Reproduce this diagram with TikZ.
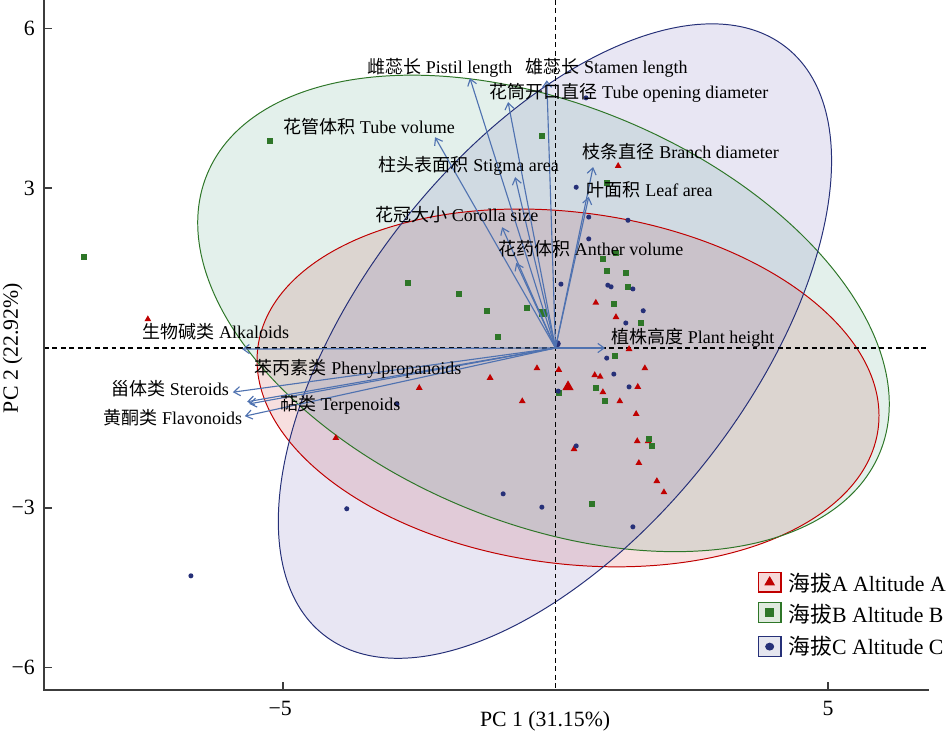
\documentclass[tikz,border=0pt]{standalone}
\usepackage{fontspec}
\setmainfont{Liberation Serif}
\newfontfamily\cjk{Noto Sans CJK SC}
\usetikzlibrary{arrows.meta}

\definecolor{altA}{RGB}{192,0,0}
\definecolor{altB}{RGB}{46,118,40}
\definecolor{altC}{RGB}{38,48,120}
\definecolor{fillA}{RGB}{200,30,30}
\definecolor{fillB}{RGB}{40,140,100}
\definecolor{fillC}{RGB}{90,80,170}
\definecolor{loadblue}{RGB}{79,114,176}
\definecolor{axisgray}{RGB}{60,60,60}

\tikzset{
    lbl/.style={font=\fontsize{12.8}{14}\selectfont, inner sep=0pt},
    ticklbl/.style={font=\fontsize{15.5}{18}\selectfont, inner sep=0pt},
    axtitle/.style={font=\fontsize{15.5}{18}\selectfont, inner sep=0pt},
    legtext/.style={font=\fontsize{15.5}{18}\selectfont, inner sep=0pt, anchor=west},
    legbox/.style={line width=0.9pt, minimum width=16pt, minimum height=14pt, inner sep=0pt},
    loading/.style={loadblue, line width=0.8pt, -{Straight Barb[length=4.5pt,width=6.5pt]}},
    zeroline/.style={black, line width=0.9pt, dash pattern=on 3.5pt off 2.5pt},
    axisline/.style={axisgray, line width=1.2pt}
}

% markers for the three altitudes
\newcommand{\markA}[1]{\fill[altA] (#1) +(90:2.8pt) -- +(210:2.8pt) -- +(330:2.8pt) -- cycle;}
\newcommand{\markB}[1]{\fill[altB] (#1) +(-2pt,-2pt) rectangle +(2pt,2pt);}
\newcommand{\markC}[1]{\fill[altC] (#1) circle (1.8pt);}

\begin{document}
\begin{tikzpicture}[x=1.3625cm, y=1.33075cm]
        \useasboundingbox (-10.193,-7.252) rectangle (7.239,6.538);

        % confidence ellipses
        \fill[fillA, fill opacity=0.14, rotate around={-7.5:(0.23,-0.75)}] (0.23,-0.75) ellipse [x radius=5.74, y radius=3.30];
        \fill[fillB, fill opacity=0.13, rotate around={-22.5:(-0.22,0.65)}] (-0.22,0.65) ellipse [x radius=6.68, y radius=3.93];
        \fill[fillC, fill opacity=0.14, rotate around={51.8:(-0.01,0.13)}] (-0.01,0.13) ellipse [x radius=6.86, y radius=3.63];
        \draw[altA, line width=0.7pt, rotate around={-7.5:(0.23,-0.75)}] (0.23,-0.75) ellipse [x radius=5.74, y radius=3.30];
        \draw[altB, line width=0.7pt, rotate around={-22.5:(-0.22,0.65)}] (-0.22,0.65) ellipse [x radius=6.68, y radius=3.93];
        \draw[altC, line width=0.7pt, rotate around={51.8:(-0.01,0.13)}] (-0.01,0.13) ellipse [x radius=6.86, y radius=3.63];

        % zero lines and axes
        \draw[zeroline] (-9.385,0) -- (6.853,0);
        \draw[zeroline] (0,6.538) -- (0,-6.425);
        \draw[axisline] (-9.385,6.538) -- (-9.385,-6.425) -- (6.853,-6.425);
        \draw[axisline] (-5,-6.425) -- (-5,-6.275);
        \draw[axisline] (5,-6.425) -- (5,-6.275);
        \draw[axisline] (-9.385,6) -- (-9.238,6);
        \draw[axisline] (-9.385,3) -- (-9.238,3);
        \draw[axisline] (-9.385,-3) -- (-9.238,-3);
        \draw[axisline] (-9.385,-6) -- (-9.238,-6);
        \node[ticklbl] (xm5) at (-5.05,-6.78) {−5};
        \node[ticklbl] (xp5) at (5,-6.78) {5};
        \node[ticklbl, anchor=east] (yp6) at (-9.55,6) {6};
        \node[ticklbl, anchor=east] (yp3) at (-9.55,3) {3};
        \node[ticklbl, anchor=east] (ym3) at (-9.55,-3) {−3};
        \node[ticklbl, anchor=east] (ym6) at (-9.55,-6) {−6};
        \node[axtitle] (xlab) at (-0.19,-7.01) {PC 1 (31.15\%)};
        \node[axtitle, rotate=90] (ylab) at (-9.96,0) {PC 2 (22.92\%)};

        % altitude A
        \markA{-7.48,0.54}
        \markA{1.15,3.42}
        \markA{0.74,0.85}
        \markA{1.11,0.58}
        \markA{1.35,-0.02}
        \markA{1.64,-0.38}
        \markA{-0.34,-0.38}
        \markA{-1.20,-0.56}
        \markA{0.06,-0.41}
        \markA{0.72,-0.51}
        \markA{0.82,-0.54}
        \markA{1.51,-0.73}
        \markA{0.87,-0.83}
        \markA{1.18,-1.00}
        \markA{-0.61,-1.00}
        \markA{1.48,-1.24}
        \markA{1.50,-1.75}
        \markA{1.70,-1.75}
        \markA{0.34,-1.90}
        \markA{1.53,-2.16}
        \markA{1.86,-2.50}
        \markA{1.99,-2.71}
        \markA{-2.50,-0.75}
        \markA{-4.03,-1.69}
        \fill[altA] (0.23,-0.73) +(90:4.6pt) -- +(210:4.6pt) -- +(330:4.6pt) -- cycle;

        % altitude B
        \markB{-5.24,3.89}
        \markB{-8.65,1.71}
        \markB{-2.71,1.22}
        \markB{-1.77,1.01}
        \markB{-0.25,3.98}
        \markB{0.94,3.10}
        \markB{0.87,1.67}
        \markB{1.11,1.78}
        \markB{0.94,1.45}
        \markB{1.29,1.41}
        \markB{1.33,1.15}
        \markB{1.07,0.83}
        \markB{-1.26,0.70}
        \markB{-0.52,0.75}
        \markB{1.57,0.47}
        \markB{-1.06,0.21}
        \markB{1.09,-0.15}
        \markB{0.06,-0.85}
        \markB{0.74,-0.75}
        \markB{0.91,-1.00}
        \markB{1.72,-1.71}
        \markB{1.77,-1.84}
        \markB{0.67,-2.93}
        \fill[altB] (-0.23,0.66) +(-3pt,-3pt) rectangle +(3pt,3pt);

        % altitude C
        \markC{0.56,4.70}
        \markC{0.38,3.02}
        \markC{0.61,2.46}
        \markC{1.33,2.40}
        \markC{0.61,2.05}
        \markC{0.10,1.20}
        \markC{0.96,1.18}
        \markC{1.02,1.15}
        \markC{1.42,1.11}
        \markC{1.61,0.70}
        \markC{1.29,0.47}
        \markC{0.94,-0.19}
        \markC{1.07,-0.49}
        \markC{0.05,-0.81}
        \markC{1.35,-0.73}
        \markC{0.38,-1.84}
        \markC{-0.96,-2.74}
        \markC{-0.25,-2.99}
        \markC{1.42,-3.36}
        \markC{-2.91,-1.05}
        \markC{-3.83,-3.02}
        \markC{-6.69,-4.28}
        \fill[altC] (0.03,0.08) circle (2.6pt);

        % loadings
        \coordinate (o) at (0,0);
        \coordinate (pistil) at (-1.57,5.07);
        \coordinate (stamen) at (-0.16,5.03);
        \coordinate (opening) at (-0.87,4.62);
        \coordinate (tubevol) at (-2.21,3.96);
        \coordinate (stigma) at (-0.74,3.21);
        \coordinate (corolla) at (-0.98,2.27);
        \coordinate (anther) at (-0.72,1.60);
        \coordinate (branch) at (0.69,3.40);
        \coordinate (leaf) at (0.61,2.84);
        \coordinate (height) at (0.91,0);
        \coordinate (alkal) at (-5.75,-0.02);
        \coordinate (steroid) at (-5.92,-0.83);
        \coordinate (phenyl) at (-5.66,-1.01);
        \coordinate (terpen) at (-5.62,-1.05);
        \coordinate (flavon) at (-5.70,-1.28);
        \draw[loading] (o) -- (pistil);
        \draw[loading] (o) -- (stamen);
        \draw[loading] (o) -- (opening);
        \draw[loading] (o) -- (tubevol);
        \draw[loading] (o) -- (stigma);
        \draw[loading] (o) -- (corolla);
        \draw[loading] (o) -- (anther);
        \draw[loading] (o) -- (branch);
        \draw[loading] (o) -- (leaf);
        \draw[loading] (o) -- (height);
        \draw[loading] (o) -- (alkal);
        \draw[loading] (o) -- (steroid);
        \draw[loading] (o) -- (phenyl);
        \draw[loading] (o) -- (terpen);
        \draw[loading] (o) -- (flavon);

        % loading labels
        \node[lbl] (l-pistil) at (-2.12,5.26) {{\cjk 雌蕊长} Pistil length};
        \node[lbl] (l-stamen) at (0.94,5.26) {{\cjk 雄蕊长} Stamen length};
        \node[lbl] (l-opening) at (1.35,4.79) {{\cjk 花筒开口直径} Tube opening diameter};
        \node[lbl] (l-tubevol) at (-3.42,4.15) {{\cjk 花管体积} Tube volume};
        \node[lbl] (l-stigma) at (-1.59,3.42) {{\cjk 柱头表面积} Stigma area};
        \node[lbl] (l-branch) at (2.30,3.68) {{\cjk 枝条直径} Branch diameter};
        \node[lbl] (l-leaf) at (1.73,2.97) {{\cjk 叶面积} Leaf area};
        \node[lbl] (l-corolla) at (-1.81,2.50) {{\cjk 花冠大小} Corolla size};
        \node[lbl] (l-anther) at (0.65,1.86) {{\cjk 花药体积} Anther volume};
        \node[lbl] (l-height) at (2.52,0.19) {{\cjk 植株高度} Plant height};
        \node[lbl] (l-alkal) at (-6.23,0.30) {{\cjk 生物碱类} Alkaloids};
        \node[lbl] (l-phenyl) at (-3.62,-0.39) {{\cjk 苯丙素类} Phenylpropanoids};
        \node[lbl] (l-steroid) at (-7.07,-0.77) {{\cjk 甾体类} Steroids};
        \node[lbl] (l-terpen) at (-3.95,-1.07) {{\cjk 萜类} Terpenoids};
        \node[lbl] (l-flavon) at (-7.02,-1.30) {{\cjk 黄酮类} Flavonoids};

        % legend
        \node[legbox, draw=altA, fill=altA!15] (boxA) at (3.93,-4.40) {};
        \node[legbox, draw=altB, fill=altB!15] (boxB) at (3.93,-4.97) {};
        \node[legbox, draw=altC, fill=altC!12] (boxC) at (3.93,-5.61) {};
        \fill[altA] (boxA.center) +(90:4.4pt) -- +(210:4.4pt) -- +(330:4.4pt) -- cycle;
        \fill[altB] (boxB.center) +(-3pt,-3pt) rectangle +(3pt,3pt);
        \fill[altC] (boxC.center) circle [x radius=3.2pt, y radius=2.8pt];
        \node[legtext] (txtA) at (4.27,-4.42) {{\cjk 海拔}A Altitude A};
        \node[legtext] (txtB) at (4.27,-5.00) {{\cjk 海拔}B Altitude B};
        \node[legtext] (txtC) at (4.27,-5.61) {{\cjk 海拔}C Altitude C};
    \end{tikzpicture}
\end{document}
